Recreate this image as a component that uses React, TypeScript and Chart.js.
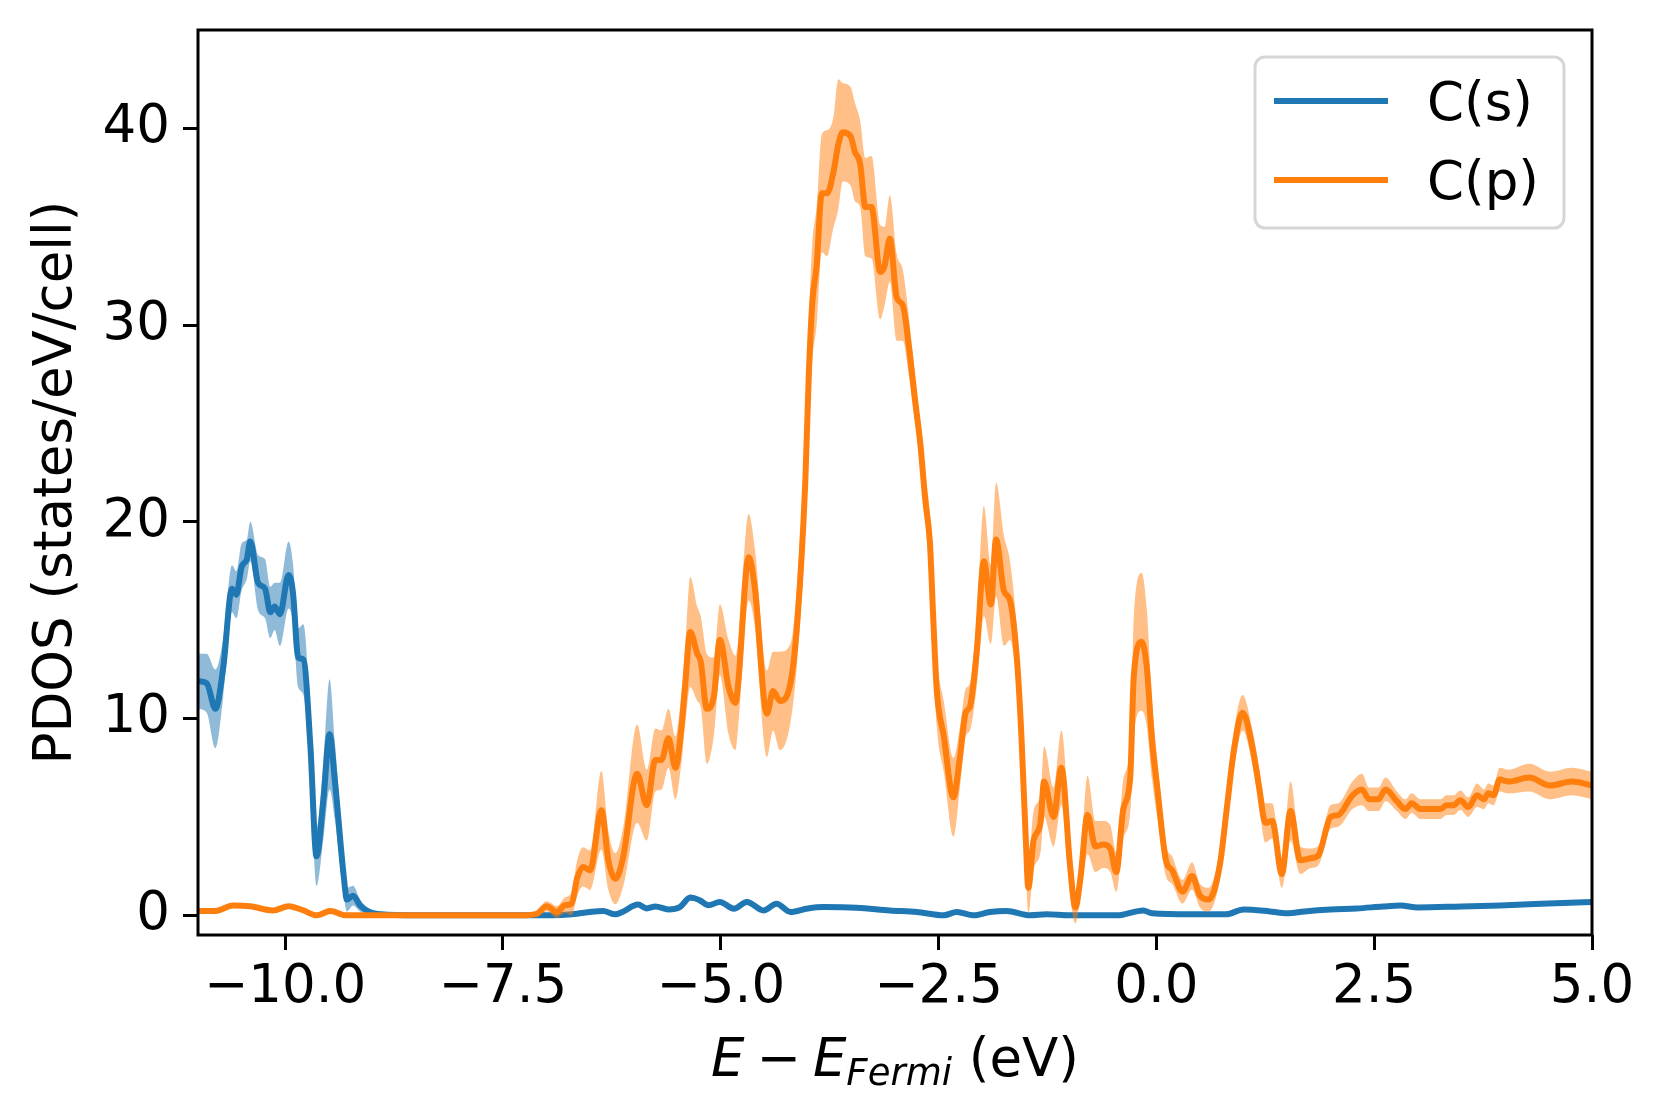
import React, { useEffect, useRef } from "react";
import { Chart, registerables } from "chart.js";

Chart.register(...registerables);

// ---------- data ----------
const seriesNames = ["C(s)", "C(p)"];
const seriesColors = ["#1f77b4", "#ff7f0e"];
const bandColors = ["rgba(31,119,180,0.5)", "rgba(255,127,14,0.5)"];

const xTicks = [-10, -7.5, -5, -2.5, 0, 2.5, 5];
const yTicks = [0, 10, 20, 30, 40];

const yTitle = "PDOS (states/eV/cell)";

// C(s)
const sEnergy = [
  -11.0, -10.9, -10.8, -10.71, -10.61, -10.56, -10.5, -10.44, -10.4, -10.31,
  -10.23, -10.17, -10.12, -10.06, -9.96, -9.91, -9.85, -9.79, -9.71, -9.64,
  -9.56, -9.49, -9.43, -9.33, -9.29, -9.22, -9.14, -9.03, -8.9, -8.5,
  -7.5, -7.0, -6.65, -6.5, -6.35, -6.21, -6.13, -5.95, -5.85, -5.75,
  -5.6, -5.47, -5.35, -5.24, -5.14, -5.01, -4.85, -4.7, -4.51, -4.36,
  -4.2, -4.0, -3.82, -3.44, -3.06, -2.75, -2.44, -2.29, -2.1, -1.91,
  -1.72, -1.45, -1.26, -1.0, -0.45, -0.15, -0.05, 0.4, 0.8, 1.0,
  1.3, 1.5, 1.7, 2.0, 2.3, 2.6, 2.8, 3.0, 3.5, 3.95,
  4.5, 5.0,
];
const sDos = [
  11.9, 11.8, 10.5, 12.6, 16.6, 16.3, 17.7, 18.1, 19.0, 16.9,
  16.6, 15.4, 15.7, 15.3, 17.3, 16.4, 13.1, 13.0, 8.6, 3.0,
  5.9, 9.2, 6.9, 2.1, 0.8, 1.0, 0.5, 0.17, 0.05, 0.0,
  0.0, 0.0, 0.08, 0.17, 0.22, 0.05, 0.17, 0.55, 0.35, 0.45,
  0.3, 0.42, 0.9, 0.76, 0.51, 0.68, 0.34, 0.68, 0.25, 0.59,
  0.17, 0.35, 0.42, 0.39, 0.25, 0.17, 0.0, 0.17, 0.0, 0.17,
  0.22, 0.0, 0.05, 0.0, 0.0, 0.25, 0.1, 0.05, 0.05, 0.3,
  0.2, 0.1, 0.2, 0.3, 0.35, 0.45, 0.5, 0.4, 0.45, 0.5,
  0.6, 0.68,
];
const sLow = [
  10.5, 10.3, 8.5, 11.1, 15.4, 15.1, 16.5, 17.1, 18.0, 15.5,
  15.1, 14.1, 14.5, 13.7, 15.6, 14.9, 11.6, 11.2, 7.1, 1.5,
  3.9, 6.4, 4.9, 1.1, 0.2, 0.5, 0.2, 0.02, -0.05, -0.05,
  -0.05, -0.05, -0.02, 0.07, 0.12, -0.05, 0.07, 0.43, 0.23, 0.33,
  0.18, 0.3, 0.75, 0.64, 0.39, 0.56, 0.22, 0.56, 0.15, 0.49,
  0.07, 0.27, 0.34, 0.31, 0.17, 0.09, -0.08, 0.09, -0.08, 0.09,
  0.14, -0.08, -0.03, -0.05, -0.05, 0.17, 0.02, 0.0, 0.0, 0.22,
  0.12, 0.02, 0.12, 0.22, 0.27, 0.37, 0.42, 0.32, 0.37, 0.42,
  0.52, 0.6,
];
const sHigh = [
  13.3, 13.3, 12.5, 14.1, 17.8, 17.5, 18.9, 19.1, 20.0, 18.3,
  18.1, 16.7, 16.9, 16.9, 19.0, 17.9, 14.6, 14.8, 10.1, 4.5,
  7.9, 12.0, 8.9, 3.1, 1.4, 1.5, 0.8, 0.32, 0.15, 0.05,
  0.05, 0.05, 0.18, 0.27, 0.32, 0.15, 0.27, 0.67, 0.47, 0.57,
  0.42, 0.54, 1.05, 0.88, 0.63, 0.8, 0.46, 0.8, 0.35, 0.69,
  0.27, 0.43, 0.5, 0.47, 0.33, 0.25, 0.08, 0.25, 0.08, 0.25,
  0.3, 0.08, 0.13, 0.05, 0.05, 0.33, 0.18, 0.1, 0.1, 0.38,
  0.28, 0.18, 0.28, 0.38, 0.43, 0.53, 0.58, 0.48, 0.53, 0.58,
  0.68, 0.76,
];

// C(p)
const pEnergy = [
  -11.0, -10.8, -10.6, -10.4, -10.14, -9.96, -9.79, -9.64, -9.48, -9.3,
  -9.0, -8.0, -7.27, -7.11, -7.0, -6.88, -6.79, -6.71, -6.65, -6.58,
  -6.5, -6.37, -6.29, -6.21, -6.12, -5.96, -5.85, -5.75, -5.68, -5.6,
  -5.52, -5.45, -5.41, -5.35, -5.27, -5.23, -5.16, -5.08, -5.01, -4.91,
  -4.83, -4.8, -4.68, -4.61, -4.47, -4.4, -4.32, -4.2, -4.12, -4.03,
  -3.99, -3.95, -3.9, -3.84, -3.78, -3.71, -3.65, -3.6, -3.51, -3.46,
  -3.4, -3.34, -3.27, -3.17, -3.12, -3.06, -2.98, -2.91, -2.84, -2.77,
  -2.71, -2.65, -2.6, -2.56, -2.52, -2.44, -2.33, -2.25, -2.19, -2.14,
  -2.06, -1.98, -1.9, -1.84, -1.75, -1.68, -1.6, -1.55, -1.5, -1.47,
  -1.41, -1.33, -1.29, -1.18, -1.09, -0.99, -0.93, -0.87, -0.79, -0.7,
  -0.61, -0.53, -0.46, -0.38, -0.3, -0.26, -0.17, -0.11, -0.05, 0.01,
  0.11, 0.18, 0.3, 0.41, 0.5, 0.6, 0.73, 0.81, 0.89, 0.99,
  1.1, 1.18, 1.25, 1.33, 1.44, 1.54, 1.65, 1.77, 1.86, 2.0,
  2.09, 2.25, 2.36, 2.44, 2.55, 2.63, 2.76, 2.86, 2.93, 3.03,
  3.26, 3.33, 3.41, 3.49, 3.58, 3.68, 3.76, 3.81, 3.87, 3.94,
  4.04, 4.28, 4.52, 4.77, 5.0,
];
const pDos = [
  0.22, 0.22, 0.5, 0.46, 0.25, 0.46, 0.25, 0.0, 0.22, 0.0,
  0.0, 0.0, 0.0, 0.08, 0.46, 0.17, 0.51, 0.6, 1.86, 2.46,
  2.29, 5.34, 2.8, 1.86, 2.96, 7.2, 5.6, 7.9, 7.9, 9.0,
  7.5, 9.6, 11.6, 14.4, 13.3, 12.9, 10.5, 11.1, 14.0, 11.6,
  10.8, 11.8, 18.2, 16.7, 10.25, 11.4, 10.9, 11.8, 15.0, 22.0,
  27.4, 31.1, 33.0, 36.7, 36.7, 37.7, 39.2, 39.8, 39.6, 38.8,
  38.2, 36.0, 36.0, 32.7, 33.0, 34.4, 31.4, 31.0, 28.9, 26.2,
  24.0, 21.0, 19.0, 15.0, 11.4, 9.1, 6.0, 8.2, 10.3, 10.6,
  13.5, 18.0, 15.8, 19.1, 16.5, 16.0, 13.0, 9.2, 4.0, 1.4,
  3.8, 4.7, 6.8, 5.0, 7.5, 2.5, 0.4, 1.95, 5.1, 3.5,
  3.6, 3.4, 2.2, 5.4, 7.0, 12.1, 13.9, 12.6, 8.9, 6.5,
  2.8, 2.3, 1.2, 2.0, 1.0, 0.8, 2.6, 5.5, 8.4, 10.3,
  8.6, 6.5, 4.7, 4.8, 2.1, 5.3, 2.8, 2.9, 3.05, 5.0,
  5.1, 6.1, 6.4, 5.9, 5.9, 6.4, 5.8, 5.4, 5.7, 5.4,
  5.4, 5.6, 5.6, 5.85, 5.5, 6.1, 5.9, 6.2, 6.1, 6.9,
  6.8, 7.0, 6.6, 6.8, 6.6,
];
const pLow = [
  0.12, 0.12, 0.4, 0.36, 0.15, 0.36, 0.15, -0.08, 0.14, -0.05,
  -0.05, -0.05, -0.05, -0.07, 0.21, -0.13, 0.11, 0.0, 0.96, 1.46,
  1.29, 3.34, 1.3, 0.56, 1.46, 4.7, 3.8, 6.3, 6.4, 7.5,
  5.9, 7.8, 9.6, 11.6, 10.9, 10.6, 7.7, 9.1, 12.2, 9.2,
  8.4, 9.6, 16.0, 14.7, 8.05, 9.4, 8.4, 9.8, 13.0, 19.5,
  24.6, 28.1, 30.0, 33.7, 33.5, 34.9, 35.9, 37.3, 37.1, 36.3,
  36.0, 33.5, 33.4, 30.3, 31.0, 32.2, 29.2, 29.2, 27.4, 25.0,
  23.0, 19.8, 17.5, 13.2, 9.6, 7.3, 4.0, 6.7, 9.1, 9.4,
  11.7, 15.2, 13.8, 16.2, 13.7, 14.0, 11.5, 7.7, 2.5, 0.1,
  2.3, 3.2, 5.0, 3.5, 5.6, 1.0, -0.4, 0.95, 3.1, 2.2,
  2.4, 2.2, 1.2, 3.9, 5.2, 9.1, 10.4, 9.6, 6.9, 5.0,
  2.0, 1.6, 0.6, 1.3, 0.4, 0.2, 1.8, 4.5, 7.4, 9.4,
  7.7, 5.5, 3.7, 3.9, 1.4, 3.8, 2.1, 2.4, 2.55, 4.4,
  4.5, 5.4, 5.6, 5.3, 5.3, 5.8, 5.3, 4.9, 5.2, 4.9,
  4.9, 5.1, 5.1, 5.35, 5.0, 5.5, 5.4, 5.7, 5.6, 6.3,
  6.2, 6.3, 5.9, 6.1, 5.9,
];
const pHigh = [
  0.32, 0.32, 0.6, 0.56, 0.35, 0.56, 0.35, 0.08, 0.3, 0.05,
  0.05, 0.05, 0.05, 0.23, 0.71, 0.47, 0.91, 1.2, 2.76, 3.46,
  3.29, 7.34, 4.3, 3.16, 4.46, 9.7, 7.4, 9.5, 9.4, 10.5,
  9.1, 11.4, 13.6, 17.2, 15.7, 15.2, 13.3, 13.1, 15.8, 14.0,
  13.2, 14.0, 20.4, 18.7, 12.45, 13.4, 13.4, 13.8, 17.0, 24.5,
  30.2, 34.1, 36.0, 39.7, 39.9, 40.5, 42.5, 42.3, 42.1, 41.3,
  40.4, 38.5, 38.6, 35.1, 35.0, 36.6, 33.6, 32.8, 30.4, 27.4,
  25.0, 22.2, 20.5, 16.8, 13.2, 10.9, 8.0, 9.7, 11.5, 11.8,
  15.3, 20.8, 17.8, 22.0, 19.3, 18.0, 14.5, 10.7, 5.5, 2.7,
  5.3, 6.2, 8.6, 6.5, 9.4, 4.0, 1.2, 2.95, 7.1, 4.8,
  4.8, 4.6, 3.2, 6.9, 8.8, 15.1, 17.4, 15.6, 10.9, 8.0,
  3.6, 3.0, 1.8, 2.7, 1.6, 1.4, 3.4, 6.5, 9.4, 11.2,
  9.5, 7.5, 5.7, 5.7, 2.8, 6.8, 3.5, 3.4, 3.55, 5.6,
  5.7, 6.8, 7.2, 6.5, 6.5, 7.0, 6.3, 5.9, 6.2, 5.9,
  5.9, 6.1, 6.1, 6.35, 6.0, 6.7, 6.4, 6.7, 6.6, 7.5,
  7.4, 7.7, 7.3, 7.5, 7.3,
];

// ---------- helpers ----------
const FONT = '"DejaVu Sans", sans-serif';
const FS = 53;

const toPoints = (xs: number[], ys: number[]) => xs.map((x, i) => ({ x, y: ys[i] }));
const fmtX = (v: number) => (v < 0 ? "\u2212" : "") + Math.abs(v).toFixed(1);
const fmtY = (v: number) => String(v);

const decorPlugin = {
  id: "decor",
  afterDraw(chart: any) {
    const { ctx, chartArea: a } = chart;
    ctx.save();
    // frame (four spines)
    ctx.strokeStyle = "#000";
    ctx.lineWidth = 3;
    ctx.strokeRect(a.left, a.top, a.right - a.left, a.bottom - a.top);

    ctx.fillStyle = "#000";
    // y-axis title
    ctx.save();
    ctx.translate(71, (a.top + a.bottom) / 2);
    ctx.rotate(-Math.PI / 2);
    ctx.font = `${FS}px ${FONT}`;
    ctx.textAlign = "center";
    ctx.textBaseline = "alphabetic";
    ctx.fillText(yTitle, 0, 0);
    ctx.restore();

    // x-axis title: E − E_Fermi (eV)  (mathtext-like spacing)
    const pieces = [
      { t: "E", it: true, s: FS, dy: 0, gap: 12 },
      { t: "\u2212", it: false, s: FS, dy: 0, gap: 12 },
      { t: "E", it: true, s: FS, dy: 0, gap: 0 },
      { t: "Fermi", it: true, s: Math.round(FS * 0.7), dy: 9, gap: 0 },
      { t: " (eV)", it: false, s: FS, dy: 0, gap: 0 },
    ];
    let total = 0;
    const widths = pieces.map((p) => {
      ctx.font = `${p.it ? "italic " : ""}${p.s}px ${FONT}`;
      const w = ctx.measureText(p.t).width + p.gap;
      total += w;
      return w;
    });
    let x = (a.left + a.right) / 2 - total / 2;
    const baseY = 1076;
    ctx.textAlign = "left";
    ctx.textBaseline = "alphabetic";
    pieces.forEach((p, i) => {
      ctx.font = `${p.it ? "italic " : ""}${p.s}px ${FONT}`;
      ctx.fillText(p.t, x, baseY + p.dy);
      x += widths[i];
    });

    // legend
    const bx = a.right - 337;
    const by = a.top + 27;
    const bw = 309;
    const bh = 171;
    ctx.beginPath();
    ctx.roundRect(bx, by, bw, bh, 10);
    ctx.fillStyle = "rgba(255,255,255,0.8)";
    ctx.fill();
    ctx.strokeStyle = "#d6d6d6";
    ctx.lineWidth = 3;
    ctx.stroke();
    const rows = [a.top + 71, a.top + 150];
    seriesNames.forEach((name, i) => {
      ctx.beginPath();
      ctx.strokeStyle = seriesColors[i];
      ctx.lineWidth = 6;
      ctx.moveTo(bx + 19, rows[i]);
      ctx.lineTo(bx + 133, rows[i]);
      ctx.stroke();
      ctx.fillStyle = "#000";
      ctx.font = `${FS}px ${FONT}`;
      ctx.textAlign = "left";
      ctx.textBaseline = "alphabetic";
      ctx.fillText(name, bx + 172, rows[i] + 19);
    });
    ctx.restore();
  },
};

export default function App() {
  const ref = useRef<HTMLCanvasElement>(null);

  useEffect(() => {
    document.body.style.margin = "0";
    const canvas = ref.current;
    if (!canvas) return;

    const band = (xs: number[], hi: number[], lo: number[], idx: number, order: number) => [
      {
        label: seriesNames[idx] + " upper",
        data: toPoints(xs, hi),
        borderWidth: 0,
        borderColor: "transparent",
        backgroundColor: bandColors[idx],
        pointRadius: 0,
        fill: "+1",
        order,
      },
      {
        label: seriesNames[idx] + " lower",
        data: toPoints(xs, lo),
        borderWidth: 0,
        borderColor: "transparent",
        backgroundColor: bandColors[idx],
        pointRadius: 0,
        fill: false,
        order,
      },
    ];

    const chart = new Chart(canvas, {
      type: "line",
      data: {
        datasets: [
          ...band(sEnergy, sHigh, sLow, 0, 4),
          {
            label: seriesNames[0],
            data: toPoints(sEnergy, sDos),
            borderColor: seriesColors[0],
            borderWidth: 6,
            pointRadius: 0,
            fill: false,
            order: 3,
          },
          ...band(pEnergy, pHigh, pLow, 1, 2),
          {
            label: seriesNames[1],
            data: toPoints(pEnergy, pDos),
            borderColor: seriesColors[1],
            borderWidth: 6,
            pointRadius: 0,
            fill: false,
            order: 1,
          },
        ] as any,
      },
      options: {
        responsive: false,
        maintainAspectRatio: false,
        devicePixelRatio: 1,
        animation: false,
        events: [],
        layout: { padding: { left: 0, right: 72, top: 30, bottom: 0 } },
        elements: {
          line: { cubicInterpolationMode: "monotone", borderJoinStyle: "round", borderCapStyle: "butt" },
          point: { radius: 0 },
        },
        plugins: {
          legend: { display: false },
          tooltip: { enabled: false },
          title: { display: false },
        },
        scales: {
          x: {
            type: "linear",
            min: -11,
            max: 5,
            afterFit: (s: any) => {
              s.height = 182;
              s.paddingLeft = 0;
              s.paddingRight = 0;
            },
            afterBuildTicks: (s: any) => {
              s.ticks = xTicks.map((v) => ({ value: v }));
            },
            ticks: {
              autoSkip: false,
              maxRotation: 0,
              minRotation: 0,
              padding: 6,
              color: "#000",
              font: { family: FONT, size: FS },
              callback: (v: any) => fmtX(Number(v)),
            },
            grid: {
              drawOnChartArea: false,
              drawTicks: true,
              tickLength: 15,
              tickWidth: 3,
              tickColor: "#000",
            },
            border: { display: false },
          },
          y: {
            type: "linear",
            min: -1,
            max: 45,
            afterFit: (s: any) => {
              s.width = 198;
              s.paddingTop = 0;
              s.paddingBottom = 0;
            },
            afterBuildTicks: (s: any) => {
              s.ticks = yTicks.map((v) => ({ value: v }));
            },
            ticks: {
              autoSkip: false,
              padding: 13,
              color: "#000",
              font: { family: FONT, size: FS },
              callback: (v: any) => fmtY(Number(v)),
            },
            grid: {
              drawOnChartArea: false,
              drawTicks: true,
              tickLength: 15,
              tickWidth: 3,
              tickColor: "#000",
            },
            border: { display: false },
          },
        },
      },
      plugins: [decorPlugin],
    });

    return () => chart.destroy();
  }, []);

  return (
    <div style={{ width: 1664, height: 1117, position: "relative" }}>
      <canvas ref={ref} width={1664} height={1117} style={{ display: "block", width: 1664, height: 1117 }} />
    </div>
  );
}
